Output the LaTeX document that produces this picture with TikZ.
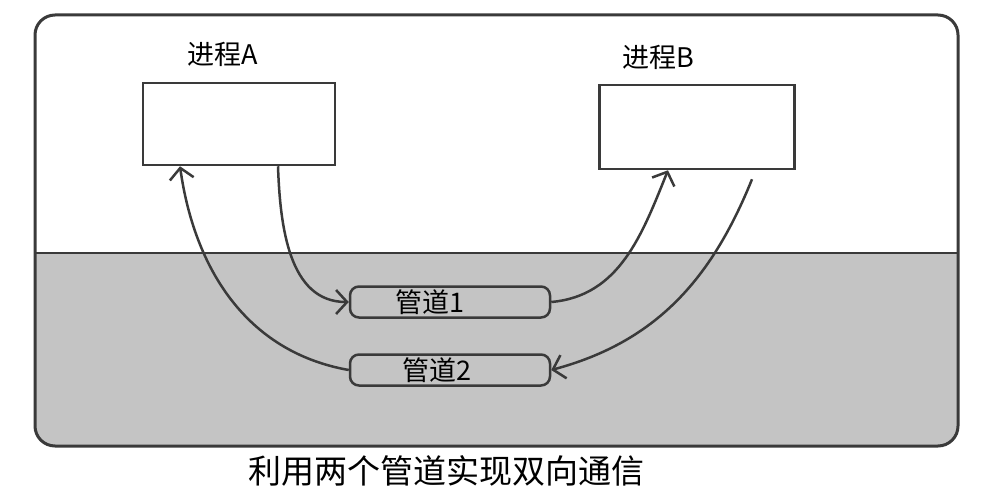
\documentclass[tikz,border=0pt]{standalone}
\usepackage{fontspec}
\setmainfont{Noto Sans CJK SC}
\usepackage{tikz}
\usetikzlibrary{arrows.meta}
\definecolor{linegray}{HTML}{3A3A3A}
\definecolor{pipegray}{HTML}{C4C4C4}
\tikzset{proc/.style={rectangle, draw=linegray, line width=2.5pt, fill=white,
      minimum width=192pt, minimum height=82pt, inner sep=0pt}}
\tikzset{pipe/.style={rectangle, rounded corners=9pt, draw=linegray, line width=2.5pt,
      fill=pipegray, minimum width=200pt, minimum height=31pt, inner sep=0pt,
      font=\fontsize{27}{29}\selectfont}}
\tikzset{pipearrow/.style={draw=linegray, line width=2.5pt,
      -{Straight Barb[length=11pt,width=24pt]}}}
\tikzset{lbl/.style={inner sep=0pt, font=\fontsize{27}{29}\selectfont}}

\begin{document}
\begin{tikzpicture}[x=1pt,y=-1pt]
		\useasboundingbox (0,0) rectangle (998,495);
		\begin{scope}
		\clip[rounded corners=20pt] (35,15) rectangle (958,446);
		\fill[pipegray] (35,253) rectangle (958,446);
		\end{scope}
		\draw[linegray, line width=2.5pt] (35,253) -- (958,253);
		\draw[linegray, line width=3pt, rounded corners=20pt] (35,15) rectangle (958,446);
		\node[proc] (procA) at (239,124) {};
		\node[proc, minimum width=195pt, minimum height=84pt] (procB) at (697,127) {};
		\node[lbl] (nameA) at (223,54) {进程A};
		\node[lbl] (nameB) at (658,57) {进程B};
		\node[pipe] (pipeone) at (450,302) {管道1\hspace*{40pt}};
		\node[pipe] (pipetwo) at (450,370) {管道2\hspace*{26pt}};
		\node[inner sep=0pt, font=\fontsize{33}{36}\selectfont] (caption) at (446,471) {利用两个管道实现双向通信};
		\coordinate (outB) at ([xshift=55pt,yshift=-9pt]procB.south);
		\draw[pipearrow] ([xshift=39pt]procA.south) to[out=-88,in=180] (pipeone.west);
		\draw[pipearrow] (pipetwo.west) to[out=170,in=-82] ([xshift=-59pt]procA.south);
		\draw[pipearrow] (pipeone.east) to[out=5,in=-112] ([xshift=-29pt]procB.south);
		\draw[pipearrow] (outB) to[out=-112,in=15] (pipetwo.east);
		\end{tikzpicture}
\end{document}
